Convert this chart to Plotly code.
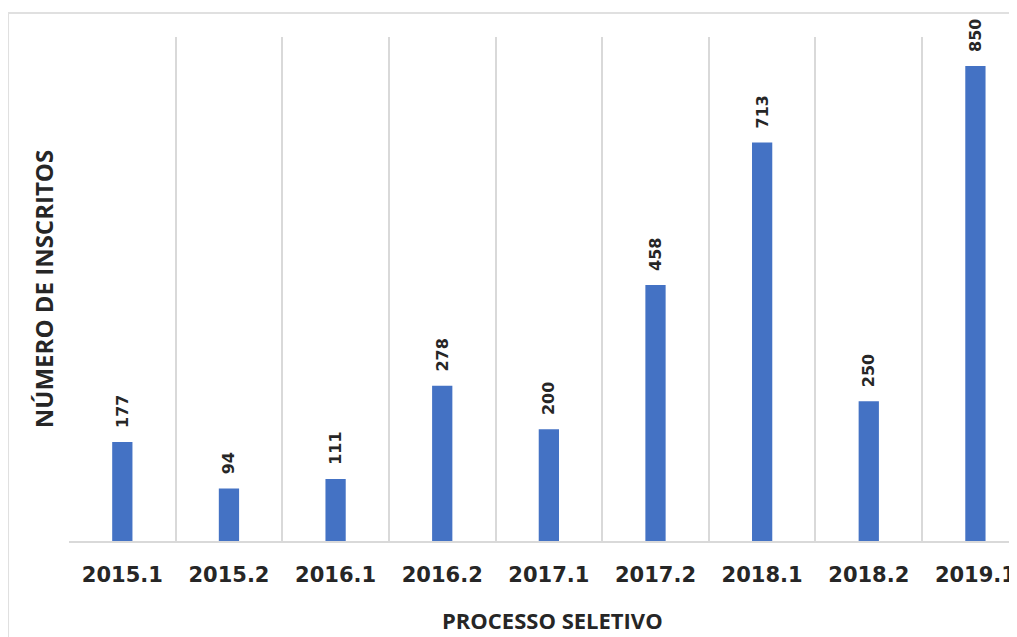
import plotly.graph_objects as go

categories = ["2015.1", "2015.2", "2016.1", "2016.2", "2017.1", "2017.2", "2018.1", "2018.2", "2019.1"]
inscritos = [177, 94, 111, 278, 200, 458, 713, 250, 850]

TITLE_FONT = "Open Sans"
NUM_FONT = "DejaVu Sans"
TXT = "#262626"
pos = list(range(len(categories)))

fig = go.Figure(go.Bar(
    x=pos, y=inscritos, width=0.19,
    marker=dict(color="#4472C4", line=dict(width=0)),
    text=[str(v) for v in inscritos],
    texttemplate="\u00a0\u00a0%{text}",
    textposition="outside", textangle=-90, constraintext="none",
    textfont=dict(family=NUM_FONT, size=16, color=TXT, weight="bold"),
    cliponaxis=False,
))

fig.update_layout(
    width=1009, height=629,
    margin=dict(l=61, r=0, t=29, b=96, autoexpand=False),
    paper_bgcolor="white", plot_bgcolor="white",
    showlegend=False,
    font=dict(family=TITLE_FONT, color=TXT),
    xaxis=dict(
        tickmode="array", tickvals=pos, ticktext=categories,
        range=[-0.5, len(categories) - 0.61],
        showgrid=False, zeroline=False,
        showline=True, linecolor="#d9d9d9", linewidth=2,
        ticks="", ticklabelstandoff=14,
        tickfont=dict(family=NUM_FONT, size=21, color=TXT, weight="bold"),
        minor=dict(tick0=0.5, dtick=1, showgrid=True, gridcolor="#d9d9d9", gridwidth=1.5, ticks=""),
        fixedrange=True,
    ),
    yaxis=dict(
        range=[0, 902], showgrid=False, zeroline=False, showline=False,
        showticklabels=False, ticks="",
        title=dict(text="NÚMERO DE INSCRITOS", standoff=7,
                   font=dict(family=TITLE_FONT, size=24, color=TXT, weight="bold")),
    ),
    annotations=[
        dict(text="PROCESSO SELETIVO", xref="paper", yref="paper", x=0.5095, y=-0.1567,
             xanchor="center", yanchor="middle", showarrow=False,
             font=dict(family=TITLE_FONT, size=22, color=TXT, weight="bold")),
    ],
    shapes=[
        dict(type="line", xref="paper", yref="paper", x0=-0.0643, x1=1.1, y0=1.0476, y1=1.0476,
             line=dict(color="#e0e0e0", width=2)),
        dict(type="line", xref="paper", yref="paper", x0=-0.0643, x1=-0.0643, y0=1.0476, y1=-0.2,
             line=dict(color="#e0e0e0", width=2)),
    ],
)

fig.write_html("out.html")
